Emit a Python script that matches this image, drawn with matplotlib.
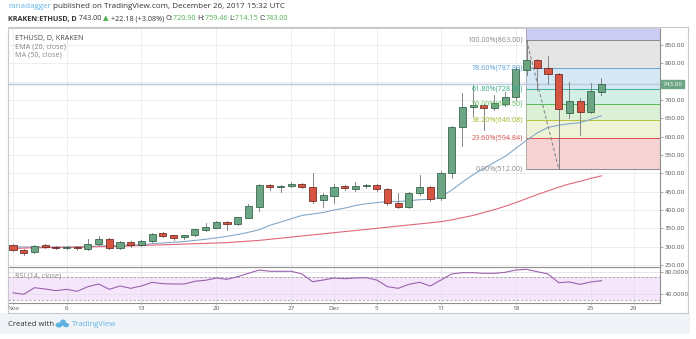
import matplotlib.pyplot as plt
from matplotlib.patches import Rectangle, Ellipse

plt.rcParams['font.family'] = ['Open Sans', 'DejaVu Sans']

# daily ETHUSD candles, Nov 1 .. Dec 26 2017 (index 0 = Nov 1)
opens = [304, 291, 285, 304, 300, 297, 300, 293, 307, 321,
         297, 313, 304, 315, 336, 331, 325, 331, 345, 352,
         368, 361, 379, 409, 468, 462, 465, 472, 463, 426,
         439, 464, 457, 465, 468, 456, 420, 409, 445, 462,
         432, 500, 625, 681, 685, 677, 688, 709, 782, 809,
         786, 771, 665, 698, 668, 720.90]
highs = [306, 293, 305, 306, 302, 302, 302, 320, 329, 323,
         316, 316, 318, 336, 339, 333, 333, 349, 364, 370,
         371, 382, 415, 472, 471, 469, 476, 474, 500, 446,
         470, 467, 477, 472, 471, 459, 445, 450, 495, 465,
         505, 628, 720, 741, 690, 713, 722, 791, 863, 812,
         820, 774, 750, 705, 745, 759.46]
lows = [288, 277, 283, 296, 294, 294, 292, 291, 305, 294,
        294, 300, 302, 313, 326, 319, 322, 329, 343, 350,
        345, 359, 377, 397, 455, 450, 462, 460, 420, 408,
        420, 455, 452, 460, 453, 414, 405, 405, 442, 425,
        428, 487, 573, 655, 618, 672, 684, 700, 768, 727,
        743, 512, 650, 604, 663, 714.15]
closes = [291, 283, 302, 298, 297, 300, 295, 307, 320, 297,
          313, 304, 315, 334, 329, 323, 331, 347, 353, 368,
          361, 380, 411, 469, 462, 466, 472, 463, 425, 441,
          463, 460, 466, 469, 456, 418, 409, 445, 462, 430,
          500, 625, 682, 686, 677, 691, 709, 784, 809, 786,
          770, 675, 698, 667, 723, 743.00]

ema20 = [300, 299, 299, 299, 299, 299, 299, 300, 302, 302,
         303, 304, 305, 308, 310, 312, 314, 317, 320, 324,
         328, 333, 339, 346, 358, 367, 376, 385, 389, 393,
         400, 405, 412, 417, 420, 423, 423, 425, 428, 429,
         436, 454, 476, 496, 513, 530, 546, 568, 590, 610,
         625, 631, 635, 638, 647, 657]
ma50 = [295, 296, 297, 297, 298, 298, 299, 299, 300, 300,
        301, 302, 303, 304, 305, 306, 307, 308, 309, 310,
        311, 313, 315, 317, 320, 323, 326, 329, 332, 335,
        338, 341, 344, 347, 350, 353, 356, 359, 362, 365,
        368, 373, 379, 385, 393, 401, 410, 420, 431, 442,
        452, 462, 471, 478, 486, 493]
rsi14 = [42.8, 40.0, 51.7, 49.4, 46.4, 48.8, 45.3, 53.5, 58.2, 48.8,
         54.7, 50.6, 54.7, 61.2, 58.8, 58.2, 58.2, 63.0, 64.8, 68.8,
         66.5, 71.2, 77.1, 83.0, 80.7, 80.7, 80.7, 76.0, 62.3, 65.3,
         68.8, 67.6, 68.8, 69.4, 65.3, 53.5, 50.6, 57.6, 61.2, 54.7,
         65.3, 76.0, 78.3, 78.3, 77.1, 77.1, 78.9, 83.0, 84.2, 80.0,
         76.0, 60.6, 61.8, 57.6, 61.8, 64.1]

date_ticks = [0, 5, 12, 19, 26, 30, 34, 40, 47, 54, 58]
date_labels = ['Nov', '6', '13', '20', '27', 'Dec', '5', '11', '18', '25', '29']
price_ticks = [250, 300, 350, 400, 450, 500, 550, 600, 650, 700, 750, 800, 850]

# fibonacci retracement from Dec 19 high to Dec 22 low
fib_start, fib_end = 48, 51
fib_ratios = [0.0, 23.6, 38.2, 50.0, 61.8, 78.6, 100.0]
fib_prices = [512.00, 594.84, 646.08, 687.50, 728.92, 787.89, 863.00]
fib_lines = ['#8a8a8a', '#d9534f', '#b8c23a', '#5cb85c', '#3fb39a', '#6aa5d6', '#8a8a8a']
fib_text = ['#8a8a8a', '#d9534f', '#b0ba30', '#5cb85c', '#2fa88c', '#5b9fd6', '#8a8a8a']
fib_fills = ['#f7d2d2', '#eef3d8', '#dcf0d6', '#d4f0e6', '#d6e8f5', '#e5e5e5']

W, H = 696, 339
XMIN, XMAX = -0.47, 60.47


def box(x0, y0, x1, y1):
    return [x0 / W, 1 - y1 / H, (x1 - x0) / W, (y1 - y0) / H]


fig = plt.figure(figsize=(6.96, 3.39), dpi=100)
ax = fig.add_axes(box(8, 28, 660, 267))
rsi_ax = fig.add_axes(box(8, 267, 660, 302.5))
date_ax = fig.add_axes(box(8, 302.5, 660, 313))

grid_c = '#ebebeb'
label_c = '#555555'

# ---- price pane
ax.set_xlim(XMIN, XMAX)
ax.set_ylim(244.5, 896)
for t in date_ticks:
    ax.axvline(t, color=grid_c, lw=0.6, zorder=0)
for p in price_ticks:
    ax.axhline(p, color=grid_c, lw=0.6, zorder=0)

fx0 = fib_start - 0.06
ax.fill_between([fx0, XMAX], 863, 896, color='#cbcbf4', lw=0, zorder=1)
for k in range(len(fib_fills)):
    ax.fill_between([fx0, XMAX], fib_prices[k], fib_prices[k + 1],
                    color=fib_fills[k], lw=0, zorder=1)
for k in range(len(fib_prices)):
    ax.plot([fx0, XMAX], [fib_prices[k], fib_prices[k]], color=fib_lines[k],
            lw=0.7, zorder=2)
    ax.text(fx0 - 0.3, fib_prices[k], '%.2f%%(%.2f)' % (fib_ratios[k], fib_prices[k]),
            color=fib_text[k], fontsize=5.2, ha='right', va='center', zorder=6)
ax.plot([fx0, fx0], [fib_prices[0], 896], color='#9a9a9a', lw=0.5, zorder=2)
ax.plot([fib_start, fib_end], [863, 512], color='#8a8a8a', lw=0.8,
        ls=(0, (3, 2)), zorder=5)

# last price line
ax.axhline(closes[-1], color='#b9cbd6', lw=1.0, zorder=2)

ax.plot(range(len(ema20)), ema20, color='#86a9c8', lw=0.8, zorder=3)
ax.plot(range(len(ma50)), ma50, color='#e0677b', lw=0.8, zorder=3)

for i in range(len(opens)):
    o, h, l, c = opens[i], highs[i], lows[i], closes[i]
    up = c >= o
    face = '#6ba583' if up else '#d75442'
    edge = '#225437' if up else '#5b1a13'
    ax.plot([i, i], [l, h], color='#737375', lw=0.6, zorder=4)
    lo = min(o, c)
    ht = max(abs(c - o), 1.5)
    ax.add_patch(Rectangle((i - 0.33, lo), 0.66, ht, facecolor=face,
                           edgecolor=edge, lw=0.5, zorder=5))

# the 750 label sits under the last-price tag, so it is left blank
ax.yaxis.tick_right()
ax.set_yticks(price_ticks)
ax.set_yticklabels(['' if p == 750 else '%.2f' % p for p in price_ticks])
ax.tick_params(axis='y', length=2, width=0.5, color='#888888', labelsize=4.6,
               labelcolor=label_c, pad=1.5)
ax.set_xticks([])
for s in ['top', 'left', 'bottom']:
    ax.spines[s].set_color('#c9ccd1')
    ax.spines[s].set_linewidth(0.7)
ax.spines['right'].set_color('#8f8f8f')
ax.spines['right'].set_linewidth(0.8)

ax.text(0.01, 0.955, 'ETHUSD, D, KRAKEN', transform=ax.transAxes, fontsize=5.2,
        color='#4a4a4a', va='center')
ax.text(0.01, 0.92, 'EMA (20, close)', transform=ax.transAxes, fontsize=5.2,
        color='#888888', va='center')
ax.text(0.01, 0.885, 'MA (50, close)', transform=ax.transAxes, fontsize=5.2,
        color='#888888', va='center')

# last price tag
ax.text(XMAX + 0.25, closes[-1], '%.2f' % closes[-1], fontsize=4.6, color='white',
        va='center', ha='left', clip_on=False, zorder=10,
        bbox=dict(boxstyle='square,pad=0.25', fc='#6ba583', ec='#6ba583'))

# ---- RSI pane
rsi_ax.set_xlim(XMIN, XMAX)
rsi_ax.set_ylim(25.5, 88.3)
rsi_ax.fill_between([XMIN, XMAX], 30, 70, color='#f5e6fb', lw=0, zorder=0)
for t in date_ticks:
    rsi_ax.axvline(t, color='#e6e0ea', lw=0.6, zorder=1)
for lvl in [40, 80]:
    rsi_ax.axhline(lvl, color='#e4dfe8', lw=0.6, zorder=1)
for lvl in [30, 70]:
    rsi_ax.axhline(lvl, color='#a0a0a0', lw=0.6, ls=(0, (3, 2)), zorder=2)
rsi_ax.plot(range(len(rsi14)), rsi14, color='#9a62ad', lw=0.8, zorder=3)
rsi_ax.text(0.01, 0.76, 'RSI (14, close)', transform=rsi_ax.transAxes, fontsize=5.2,
            color='#888888', va='center')
rsi_ax.yaxis.tick_right()
rsi_ax.set_yticks([40, 80])
rsi_ax.set_yticklabels(['40.0000', '80.0000'])
rsi_ax.tick_params(axis='y', length=2, width=0.5, color='#888888', labelsize=4.6,
                   labelcolor=label_c, pad=1.5)
rsi_ax.set_xticks([])
for s in rsi_ax.spines.values():
    s.set_color('#8f8f8f')
    s.set_linewidth(0.8)
rsi_ax.spines['left'].set_color('#c9ccd1')

# ---- date axis
date_ax.set_xlim(XMIN, XMAX)
date_ax.set_ylim(0, 1)
date_ax.axis('off')
for t, lab in zip(date_ticks, date_labels):
    date_ax.plot([t, t], [0.85, 1.0], color='#999999', lw=0.5)
    date_ax.text(t, 0.4, lab, fontsize=4.6, color=label_c, ha='center', va='center',
                 clip_on=True)

# outer frame around panes and scales
fig.patches.append(Rectangle((8 / W, 1 - 313 / H), 680 / W, 286 / H, transform=fig.transFigure,
                             fill=False, ec='#c5c8cd', lw=0.8))
# footer band
fig.patches.append(Rectangle((0, 1 - 334 / H), 690 / W, 21 / H, transform=fig.transFigure,
                             fc='#f0f3f7', ec='none', zorder=-1))

renderer = fig.canvas.get_renderer()


def runs(x, y, parts, size):
    for s, color, weight in parts:
        t = fig.text(x / W, 1 - y / H, s, fontsize=size, color=color,
                     fontweight=weight, va='center', ha='left')
        x += t.get_window_extent(renderer).width


dark = '#333333'
green = '#4db24e'
runs(8, 7, [('ranadagger', '#62b4e6', 'normal'),
            (' published on TradingView.com, December 26, 2017 15:32 UTC', dark, 'normal')], 5.8)
runs(8, 19, [('KRAKEN:ETHUSD, D', dark, 'bold'), (' 743.00 ', dark, 'normal'),
             ('\u25b2', green, 'normal'), (' +22.18 (+3.08%) ', dark, 'normal'),
             ('O:', dark, 'normal'), ('720.90 ', green, 'normal'),
             ('H:', dark, 'normal'), ('759.46 ', green, 'normal'),
             ('L:', dark, 'normal'), ('714.15 ', green, 'normal'),
             ('C:', dark, 'normal'), ('743.00', green, 'normal')], 5.2)

# footer: created with + logo
fig.text(8 / W, 1 - 324 / H, 'Created with', fontsize=5.6, color=dark, va='center')
for cx, cy, w, h in [(59, 325, 7, 5), (63, 322.5, 6, 6), (66, 325, 6, 4.5)]:
    fig.patches.append(Ellipse((cx / W, 1 - cy / H), w / W, h / H, transform=fig.transFigure,
                               fc='#5db2e0', ec='none'))
fig.text(72 / W, 1 - 324 / H, 'TradingView', fontsize=5.6, color='#62b4e6', va='center')

fig.savefig('out.png', dpi=100)
